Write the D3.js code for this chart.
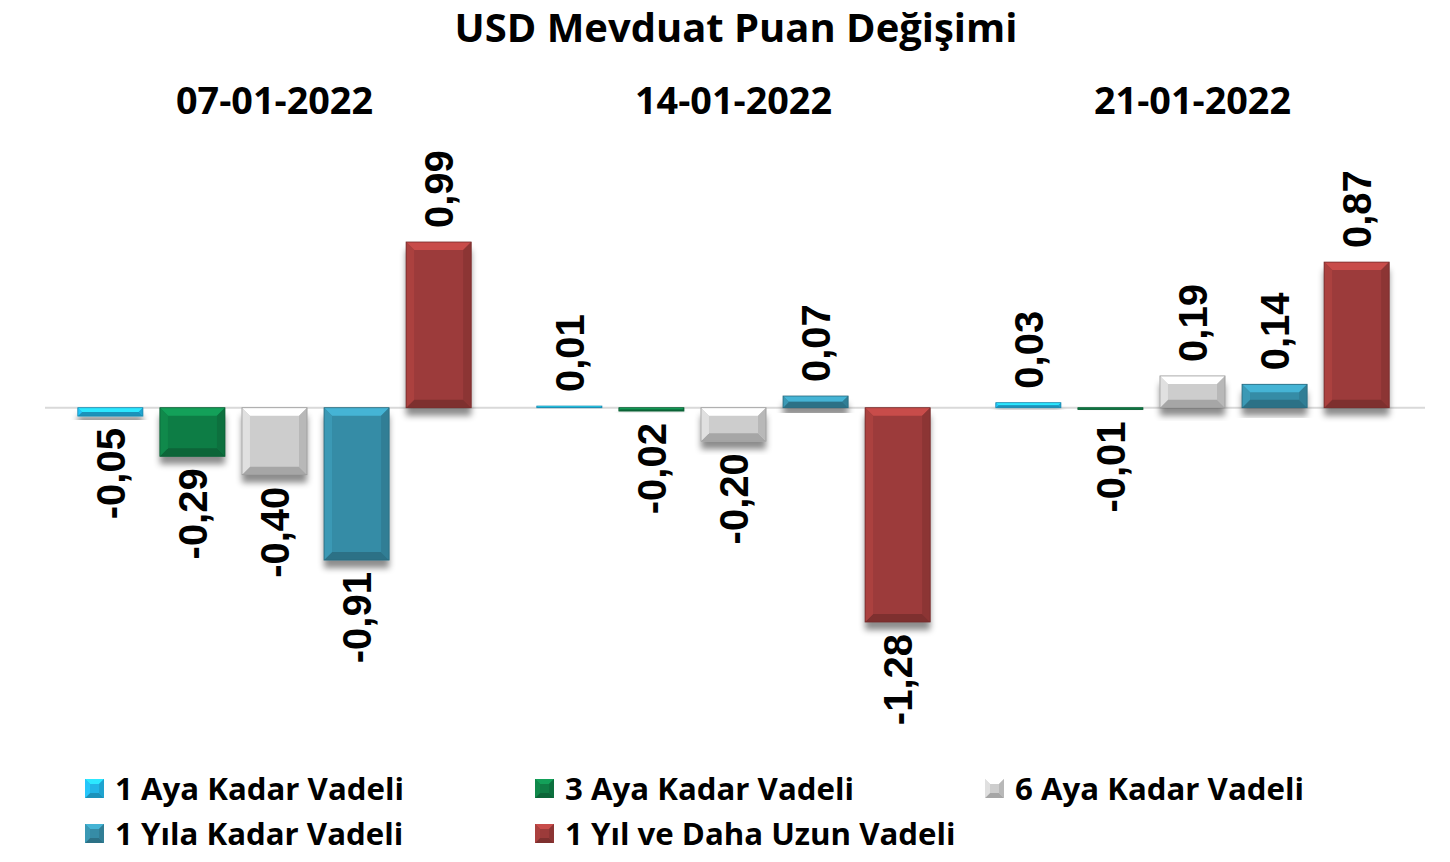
<!DOCTYPE html>
<html>
<head>
<meta charset="utf-8">
<script src="https://cdn.jsdelivr.net/npm/d3@7"></script>
<style>
  body { margin: 0; background: #fff; }
  svg { display: block; }
</style>
</head>
<body>
<svg id="chart" width="1450" height="862"></svg>
<script>
// Data
const dates = ['07-01-2022', '14-01-2022', '21-01-2022'];
const series = ['1 Aya Kadar Vadeli', '3 Aya Kadar Vadeli', '6 Aya Kadar Vadeli', '1 Yıla Kadar Vadeli', '1 Yıl ve Daha Uzun Vadeli'];
const aya1 = [-0.05, 0.01, 0.03];
const aya3 = [-0.29, -0.02, -0.01];
const aya6 = [-0.40, -0.20, 0.19];
const yil1 = [-0.91, 0.07, 0.14];
const yilUzun = [0.99, -1.28, 0.87];
const seriesColors = ['#22b5e6', '#0f7d45', '#cdcdcd', '#368ca6', '#9c3b3a'];

const values = [aya1, aya3, aya6, yil1, yilUzun];
const rows = [];
dates.forEach((d, i) => {
  series.forEach((s, j) => rows.push({ date: d, series: s, value: values[j][i], color: seriesColors[j] }));
});

const svg = d3.select('#chart');
const titleFont = '"Open Sans", Lato, sans-serif';
const labelFont = '"Liberation Sans", Arial, sans-serif';

// scale a text's font size so it spans a given width
function fitWidth(sel, target) {
  sel.each(function () {
    const s = parseFloat(this.style.fontSize);
    const w = this.getComputedTextLength();
    if (w > 0) d3.select(this).style('font-size', (s * target / w).toFixed(2) + 'px');
  });
}

// Scales
const x0 = d3.scaleBand().domain(dates).range([45, 1422]).padding(0);
const x1 = d3.scaleBand().domain(series).range([0, x0.bandwidth()])
  .paddingInner(0.207).paddingOuter(0.4);
const y = d3.scaleLinear().domain([-1.28, 0.99]).range([622, 242]);

// Shadow filter
const defs = svg.append('defs');
const f = defs.append('filter').attr('id', 'shadow')
  .attr('x', '-20%').attr('y', '-20%').attr('width', '140%').attr('height', '160%');
f.append('feDropShadow').attr('dx', 0).attr('dy', 8).attr('stdDeviation', 3)
  .attr('flood-color', '#000').attr('flood-opacity', 0.45);

// Title
svg.append('text')
  .attr('x', 736).attr('y', 42)
  .attr('text-anchor', 'middle')
  .style('font-family', titleFont).style('font-weight', 'bold').style('font-size', '36px')
  .text('USD Mevduat Puan Değişimi')
  .call(fitWidth, 563);

// Group labels
svg.append('g').selectAll('text')
  .data(dates)
  .join('text')
  .attr('x', d => x0(d) + x0.bandwidth() / 2)
  .attr('y', 114)
  .attr('text-anchor', 'middle')
  .style('font-family', titleFont).style('font-weight', 'bold').style('font-size', '36px')
  .text(d => d)
  .call(fitWidth, 197);

// Zero line
svg.append('line')
  .attr('x1', 45).attr('x2', 1425)
  .attr('y1', y(0)).attr('y2', y(0))
  .attr('stroke', '#d9d9d9').attr('stroke-width', 2);

const faceList = (bx, by, w, h, b, c) => {
  const x2 = bx + w, y2 = by + h;
  return [
    { pts: [[bx, by], [x2, by], [x2 - b, by + b], [bx + b, by + b]], fill: c.brighter(0.7) },
    { pts: [[bx, y2], [x2, y2], [x2 - b, y2 - b], [bx + b, y2 - b]], fill: c.darker(0.6) },
    { pts: [[bx, by], [bx + b, by + b], [bx + b, y2 - b], [bx, y2]], fill: c.brighter(0.25) },
    { pts: [[x2, by], [x2 - b, by + b], [x2 - b, y2 - b], [x2, y2]], fill: c.darker(0.3) }
  ];
};

// bevel drawing helper
function bevel(g, bx, by, w, h, color) {
  const c = d3.color(color);
  g.append('rect').attr('x', bx).attr('y', by).attr('width', w).attr('height', Math.max(h, 1))
    .attr('fill', color).attr('filter', 'url(#shadow)');
  const b = Math.min(8, h / 2, w / 2);
  if (b < 0.5) return;
  faceList(bx, by, w, h, b, c).forEach(fc => {
    g.append('polygon').attr('points', fc.pts.map(p => p.join(',')).join(' '))
      .attr('fill', fc.fill);
  });
  g.append('rect').attr('x', bx).attr('y', by).attr('width', w).attr('height', Math.max(h, 1))
    .attr('fill', 'none').attr('stroke', c.darker(0.8)).attr('stroke-width', 0.8);
}

// Bars
const barsG = svg.append('g');
rows.forEach(r => {
  const bx = x0(r.date) + x1(r.series);
  const top = Math.min(y(r.value), y(0));
  const h = Math.abs(y(r.value) - y(0));
  bevel(barsG.append('g'), bx, top, x1.bandwidth(), h, r.color);
});

// Value labels
const trLocale = d3.formatLocale({ decimal: ',', thousands: '.', grouping: [3], currency: ['', ''], minus: '-' });
const fmt = trLocale.format('.2f');
svg.append('g').selectAll('text')
  .data(rows)
  .join('text')
  .attr('transform', d => {
    const cx = x0(d.date) + x1(d.series) + x1.bandwidth() / 2;
    const yy = d.value >= 0 ? y(d.value) - 14 : y(d.value) + 12;
    return `translate(${cx},${yy}) rotate(-90)`;
  })
  .attr('dy', '0.36em')
  .attr('text-anchor', d => d.value >= 0 ? 'start' : 'end')
  .style('font-family', labelFont).style('font-weight', 'bold').style('font-size', '40px')
  .text(d => fmt(d.value));

// Legend
const legendPos = [[85, 788], [535, 788], [985, 788], [85, 833], [535, 833]];
const lg = svg.append('g');
series.forEach((s, i) => {
  const [lx, ly] = legendPos[i];
  const g = lg.append('g');
  const c = d3.color(seriesColors[i]);
  const sz = 19, bx = lx, by = ly - 9;
  g.append('rect').attr('x', bx).attr('y', by).attr('width', sz).attr('height', sz).attr('fill', seriesColors[i]);
  faceList(bx, by, sz, sz, 5, c).forEach(fc =>
    g.append('polygon').attr('points', fc.pts.map(p => p.join(',')).join(' ')).attr('fill', fc.fill));
  g.append('text')
    .attr('x', lx + 30).attr('y', ly + 12)
    .style('font-family', titleFont).style('font-weight', 'bold').style('font-size', '30px')
    .text(s);
});
// match the legend text size to the reference span of the first entry
const probe = lg.select('text');
const legendSize = parseFloat(probe.style('font-size')) * 289 / probe.node().getComputedTextLength();
lg.selectAll('text').style('font-size', legendSize.toFixed(2) + 'px');
</script>
</body>
</html>
